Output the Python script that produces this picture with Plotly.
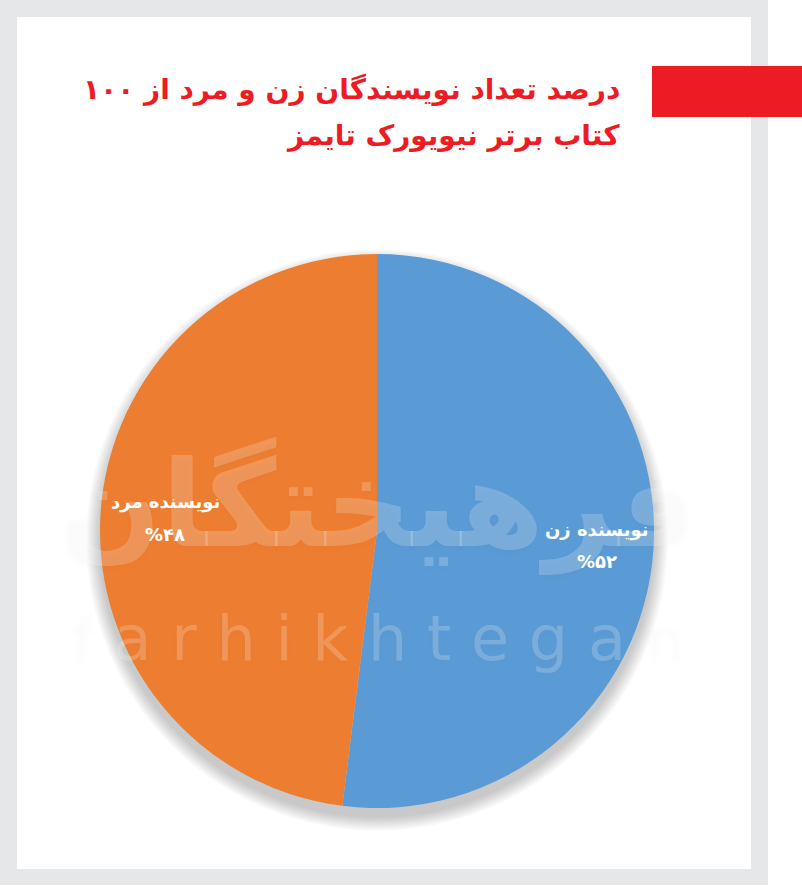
import math
import plotly.graph_objects as go

# ---- data ----
labels = ["نویسنده زن", "نویسنده مرد"]
values = [52, 48]
value_labels = ["%۵۲", "%۴۸"]
colors = ["#5b9bd5", "#ed7d31"]
title_lines = ["درصد تعداد نویسندگان زن و مرد از ۱۰۰", "کتاب برتر نیویورک تایمز"]
watermark_fa = "فرهیختگان"
watermark_en = "f a r h i k h t e g a n"

W, H = 802, 887

def px(x):
    return x / W

def py(y):
    return 1 - y / H

fig = go.Figure()
fig.add_trace(go.Pie(
    labels=labels,
    values=values,
    sort=False,
    direction="clockwise",
    rotation=0,
    marker=dict(colors=colors, line=dict(width=0)),
    textinfo="none",
    hoverinfo="skip",
    showlegend=False,
    domain=dict(x=[px(100), px(654)], y=[py(808), py(254)]),
))

shapes = []
# grey frame and white card
shapes.append(dict(type="rect", xref="paper", yref="paper", x0=0, x1=px(768), y0=py(885), y1=1,
                   fillcolor="#e6e7e8", line=dict(width=0), layer="below"))
shapes.append(dict(type="rect", xref="paper", yref="paper", x0=px(17), x1=px(751), y0=py(869), y1=py(17),
                   fillcolor="#ffffff", line=dict(width=0), layer="below"))
# soft pie shadow (mostly below)
cx, cy, R = 377, 531, 277
for i in range(8):
    r = R + 1 + i * 1.8
    dy = 9
    shapes.append(dict(type="circle", xref="paper", yref="paper",
                       x0=px(cx - r), x1=px(cx + r), y0=py(cy + dy + r), y1=py(cy + dy - r),
                       fillcolor="rgba(0,0,0,0.026)", line=dict(width=0), layer="below"))
# red bar
shapes.append(dict(type="rect", xref="paper", yref="paper", x0=px(652), x1=1, y0=py(117), y1=py(66),
                   fillcolor="#ed1c24", line=dict(width=0), layer="above"))

annotations = [
    dict(text="<b>" + title_lines[0] + "</b>", xref="paper", yref="paper", x=px(622), y=py(89),
         xanchor="right", yanchor="middle", showarrow=False,
         font=dict(family="DejaVu Sans", size=28, color="#ed1c24")),
    dict(text="<b>" + title_lines[1] + "</b>", xref="paper", yref="paper", x=px(622), y=py(136),
         xanchor="right", yanchor="middle", showarrow=False,
         font=dict(family="DejaVu Sans", size=28, color="#ed1c24")),
    dict(text="<b>" + watermark_fa + "</b>", xref="paper", yref="paper", x=px(378), y=py(505),
         xanchor="center", yanchor="middle", showarrow=False,
         font=dict(family="DejaVu Sans", size=120, color="rgba(255,255,255,0.2)",
                   shadow="0px 3px 6px rgba(0,0,0,0.10)")),
    dict(text=watermark_en, xref="paper", yref="paper", x=px(378), y=py(638),
         xanchor="center", yanchor="middle", showarrow=False,
         font=dict(family="DejaVu Sans", size=62, color="rgba(255,255,255,0.2)",
                   shadow="0px 3px 6px rgba(0,0,0,0.10)")),
]

# slice labels placed along each slice's bisector (from the values)
total = sum(values)
cum = 0
for lab, val, vl in zip(labels, values, value_labels):
    mid = (cum + val / 2) / total * 2 * math.pi
    cum += val
    rr = 0.78 * R
    lx = cx + rr * math.sin(mid)
    ly = cy - rr * math.cos(mid)
    annotations.append(dict(text="<b>" + lab + "</b>",
                            xref="paper", yref="paper", x=px(lx + 4), y=py(ly - 15),
                            xanchor="center", yanchor="middle", showarrow=False,
                            font=dict(family="DejaVu Sans", size=18, color="white")))
    annotations.append(dict(text="<b>" + vl + "</b>",
                            xref="paper", yref="paper", x=px(lx + 4), y=py(ly + 17),
                            xanchor="center", yanchor="middle", showarrow=False,
                            font=dict(family="DejaVu Sans", size=18, color="white")))

fig.update_layout(
    width=W, height=H,
    margin=dict(l=0, r=0, t=0, b=0),
    paper_bgcolor="#ffffff",
    plot_bgcolor="#ffffff",
    shapes=shapes,
    annotations=annotations,
)

fig.write_html("out.html", config=dict(displayModeBar=False),
               post_script="document.body.style.margin='0';document.body.style.overflow='hidden';")
